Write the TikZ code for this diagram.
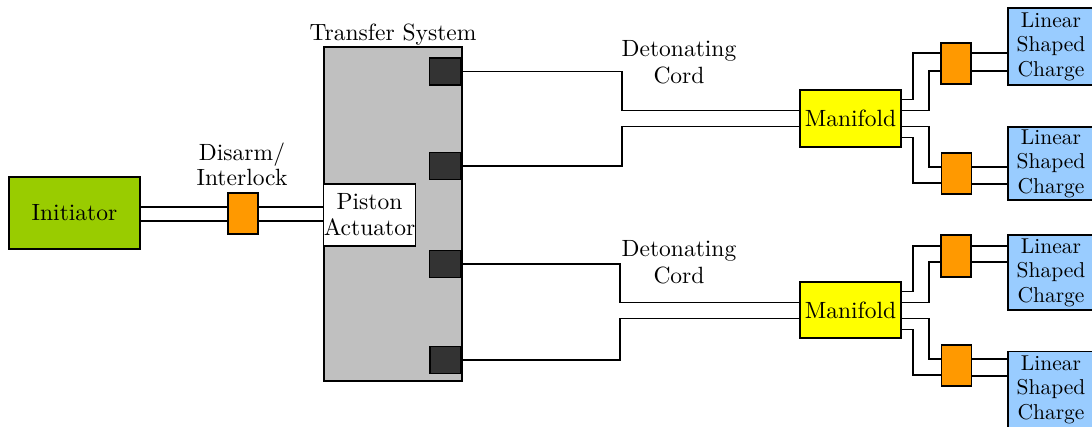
\documentclass[tikz,border=0pt]{standalone}
\usepackage{fontspec}
\newfontfamily\timesfont{lmroman10-regular.otf}
\definecolor{initgreen}{HTML}{99CC00}
\definecolor{detorange}{HTML}{FF9900}
\definecolor{manyellow}{HTML}{FFFF00}
\definecolor{lscblue}{HTML}{99CCFF}
\definecolor{tsgray}{HTML}{C0C0C0}
\definecolor{portdark}{HTML}{333333}
\tikzset{
  blk/.style={draw=black, line width=1.4pt, inner sep=0pt, align=center,
    font=\timesfont\fontsize{23.5}{27}\selectfont},
  initbox/.style={blk, fill=initgreen, minimum width=131pt, minimum height=72pt},
  detbox/.style={blk, fill=detorange, minimum width=30pt, minimum height=41pt},
  tsbox/.style={blk, fill=tsgray, minimum width=138pt, minimum height=334pt},
  pistonbox/.style={blk, fill=white, minimum width=91pt, minimum height=62pt,
    font=\timesfont\fontsize{23.5}{26}\selectfont},
  portbox/.style={blk, fill=portdark, minimum width=31pt, minimum height=27pt},
  manbox/.style={blk, fill=manyellow, minimum width=101pt, minimum height=57pt},
  lscbox/.style={blk, fill=lscblue, minimum width=86pt, minimum height=76pt,
    font=\timesfont\fontsize{21.5}{24.5}\selectfont},
  lbl/.style={inner sep=0pt, align=center, font=\timesfont\fontsize{23.5}{27}\selectfont},
  cord/.style={draw=black, line width=1.4pt},
}
\begin{document}
\begin{tikzpicture}[x=1pt,y=-1pt]
\fill[white] (0,0) rectangle (1092,427);
\useasboundingbox (0,0) rectangle (1092,427);

% blocks
\node[initbox] (init) at (74.5,213) {Initiator};
\node[detbox] (il) at (243,213.5) {};
\node[tsbox] (ts) at (393,214) {};
\node[pistonbox] (piston) at (369.5,215) {Piston\\Actuator};
\node[portbox] (sq1) at (445,71.5) {};
\node[portbox] (sq2) at (445,166) {};
\node[portbox] (sq3) at (445,264) {};
\node[portbox] (sq4) at (445.5,360) {};
\node[manbox] (man1) at (850.5,118.5) {Manifold};
\node[manbox, minimum height=56pt] (man2) at (850.5,310) {Manifold};
\node[detbox] (o1) at (956,63.5) {};
\node[detbox] (o2) at (956.5,173.5) {};
\node[detbox, minimum height=42pt] (o3) at (956,256) {};
\node[detbox] (o4) at (956.5,365.5) {};
\node[lscbox, minimum height=77pt] (lsc1) at (1051,46.5) {Linear\\Shaped\\Charge};
\node[lscbox, minimum height=73pt] (lsc2) at (1051,163.5) {Linear\\Shaped\\Charge};
\node[lscbox, minimum height=75pt] (lsc3) at (1051,272.5) {Linear\\Shaped\\Charge};
\node[lscbox] (lsc4) at (1051,389.5) {Linear\\Shaped\\Charge};

% labels
\node[lbl, anchor=base] (lts) at (393,41) {Transfer System};
\node[lbl, font=\timesfont\fontsize{23.5}{25}\selectfont] (lil) at (242,164.5) {Disarm/\\Interlock};
\node[lbl] (ldc1) at (679,62.5) {Detonating\\Cord};
\node[lbl] (ldc2) at (679,262.5) {Detonating\\Cord};

% initiator -> interlock -> piston
\draw[cord] (init.east |- 0,207) -- (il.west |- 0,207);
\draw[cord] (init.east |- 0,221) -- (il.west |- 0,221);
\draw[cord] (il.east |- 0,207) -- (piston.west |- 0,207);
\draw[cord] (il.east |- 0,221) -- (piston.west |- 0,221);

% transfer ports -> manifolds
\draw[cord] (sq1.east) -| (622,110.5) -- (man1.west |- 0,110.5);
\draw[cord] (sq2.east) -| (622,126.5) -- (man1.west |- 0,126.5);
\draw[cord] (sq3.east) -| (620,302.5) -- (man2.west |- 0,302.5);
\draw[cord] (sq4.east) -| (620,318.5) -- (man2.west |- 0,318.5);

% manifold 1 -> detonators
\draw[cord] (man1.east |- 0,99.5) -| (913,53) -- (o1.west |- 0,53);
\draw[cord] (man1.east |- 0,110.5) -| (929,71) -- (o1.west |- 0,71);
\draw[cord] (man1.east |- 0,126.5) -| (929,167) -- (o2.west |- 0,167);
\draw[cord] (man1.east |- 0,137.5) -| (913,183) -- (o2.west |- 0,183);
% manifold 2 -> detonators
\draw[cord] (man2.east |- 0,291.5) -| (913,246) -- (o3.west |- 0,246);
\draw[cord] (man2.east |- 0,302.5) -| (929,262) -- (o3.west |- 0,262);
\draw[cord] (man2.east |- 0,318.5) -| (929,359) -- (o4.west |- 0,359);
\draw[cord] (man2.east |- 0,329.5) -| (913,375) -- (o4.west |- 0,375);

% detonators -> linear shaped charges
\draw[cord] (o1.east |- 0,53) -- (lsc1.west |- 0,53);
\draw[cord] (o1.east |- 0,71) -- (lsc1.west |- 0,71);
\draw[cord] (o2.east |- 0,167) -- (lsc2.west |- 0,167);
\draw[cord] (o2.east |- 0,184) -- (lsc2.west |- 0,184);
\draw[cord] (o3.east |- 0,246) -- (lsc3.west |- 0,246);
\draw[cord] (o3.east |- 0,262) -- (lsc3.west |- 0,262);
\draw[cord] (o4.east |- 0,359) -- (lsc4.west |- 0,359);
\draw[cord] (o4.east |- 0,376) -- (lsc4.west |- 0,376);
\end{tikzpicture}
\end{document}
